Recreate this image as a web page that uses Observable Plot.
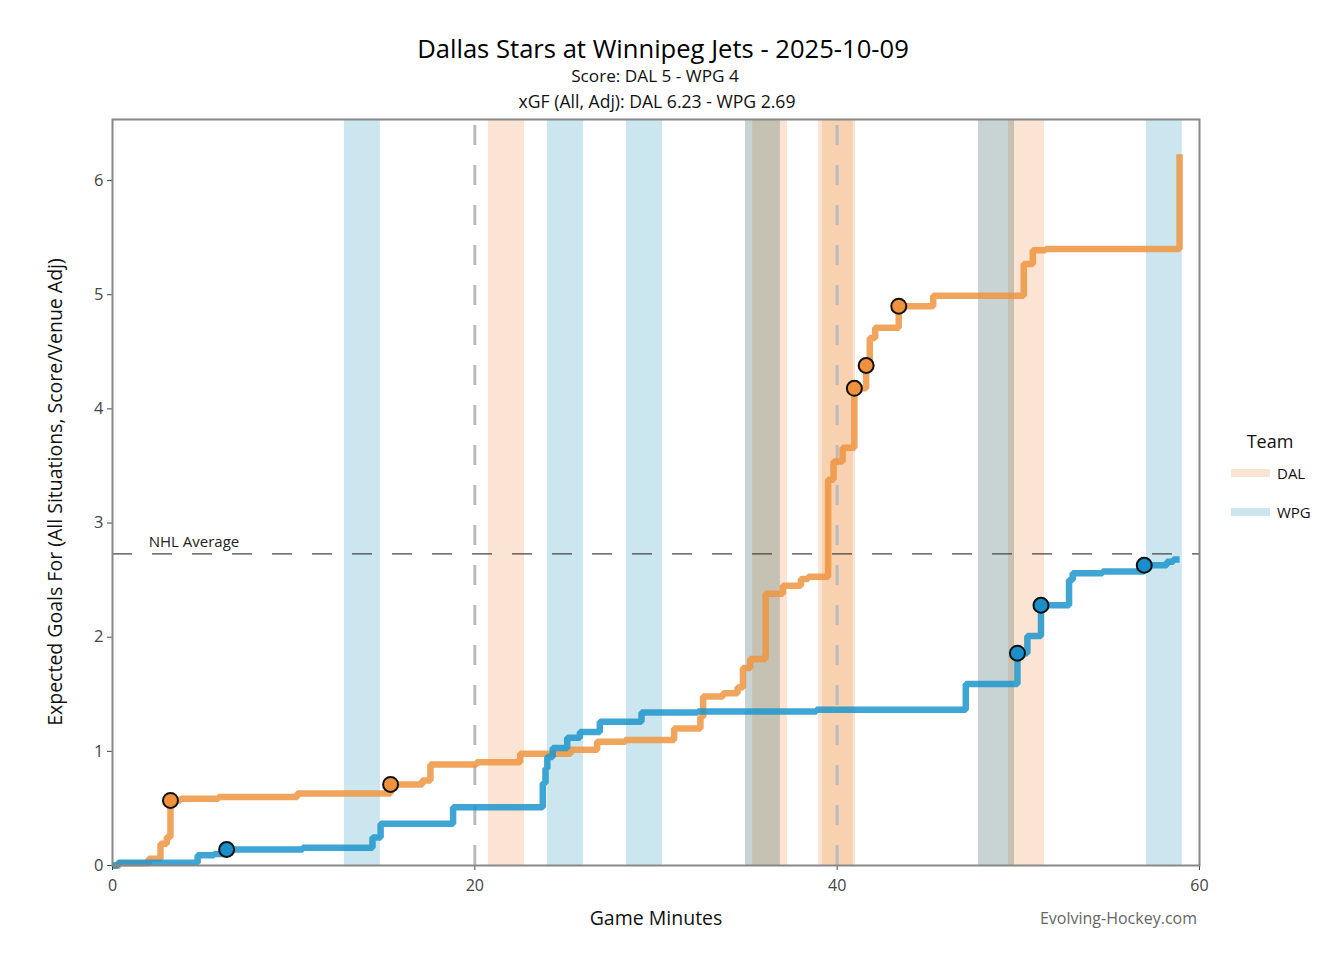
<!DOCTYPE html>
<html><head><meta charset="utf-8">
<script src="https://cdn.jsdelivr.net/npm/d3@7"></script>
<script src="https://cdn.jsdelivr.net/npm/@observablehq/plot@0.6"></script>
<style>
body{margin:0;background:#fff;font-family:"Open Sans",sans-serif;}
#wrap{position:relative;width:1340px;height:958px;overflow:hidden;}
.t{position:absolute;white-space:nowrap;color:#111;line-height:1;}
</style></head><body><div id="wrap"></div>
<script>
// ---- data ----
const dalTime = [0, 0.4, 2.0, 2.65, 3.0, 3.2, 3.75, 5.85, 10.2, 15.35, 17.1, 17.55, 20.1, 22.5, 25.3, 26.75, 28.3, 31.0, 32.45, 32.6, 33.7, 34.5, 34.8, 35.2, 36.05, 37.0, 38.0, 38.4, 39.5, 39.8, 40.3, 40.95, 41.6, 41.8, 42.1, 43.4, 45.3, 50.3, 50.8, 51.5, 58.9];
const dalXg   = [0, 0.02, 0.06, 0.19, 0.25, 0.57, 0.585, 0.60, 0.63, 0.71, 0.745, 0.885, 0.905, 0.98, 1.015, 1.085, 1.10, 1.20, 1.30, 1.48, 1.51, 1.56, 1.73, 1.81, 2.38, 2.45, 2.51, 2.53, 3.38, 3.54, 3.66, 4.18, 4.38, 4.62, 4.71, 4.90, 4.99, 5.27, 5.39, 5.40, 6.23];
const wpgTime = [0, 0.3, 4.7, 5.6, 6.3, 10.5, 14.35, 14.8, 18.8, 23.75, 23.9, 24.0, 24.3, 25.1, 25.8, 26.9, 29.2, 32.3, 38.85, 47.1, 49.95, 50.5, 51.25, 52.8, 53.0, 54.65, 56.95, 58.2, 58.55, 58.9];
const wpgXg   = [0, 0.025, 0.09, 0.10, 0.14, 0.155, 0.245, 0.365, 0.51, 0.72, 0.85, 0.95, 1.03, 1.12, 1.17, 1.26, 1.34, 1.35, 1.365, 1.59, 1.86, 2.01, 2.28, 2.50, 2.56, 2.575, 2.63, 2.66, 2.68, 2.68];
const dalGoalTime = [3.2, 15.35, 40.95, 41.6, 43.4];
const dalGoalXg   = [0.57, 0.71, 4.18, 4.38, 4.90];
const wpgGoalTime = [6.3, 49.95, 51.25, 56.95];
const wpgGoalXg   = [0.14, 1.86, 2.28, 2.63];
// power-play strips
const stripStart = [12.8, 20.75, 24.0, 28.37, 34.94, 35.33, 36.87, 38.97, 39.19, 40.9, 47.8, 49.46, 49.79, 57.07];
const stripEnd   = [14.79, 22.74, 26.0, 30.36, 35.33, 36.87, 37.26, 39.19, 40.9, 41.01, 49.46, 49.79, 51.44, 59.05];
const stripKind  = ["WPG", "DAL", "WPG", "WPG", "Both-WPG", "Both", "DAL", "DAL", "DAL-2", "DAL", "Both-WPG", "Both", "DAL", "WPG"];
const periodMarks = [20, 40];
const nhlAverage = 2.73;
const xTicks = [0, 20, 40, 60];
const yTicks = [0, 1, 2, 3, 4, 5, 6];
const teams = ["DAL", "WPG"];

// ---- build ----
const dal = dalTime.map((t, i) => ({t, xg: dalXg[i]}));
const wpg = wpgTime.map((t, i) => ({t, xg: wpgXg[i]}));
const dalGoals = dalGoalTime.map((t, i) => ({t, xg: dalGoalXg[i]}));
const wpgGoals = wpgGoalTime.map((t, i) => ({t, xg: wpgGoalXg[i]}));
const strips = stripStart.map((s, i) => ({s, e: stripEnd[i], k: stripKind[i]}));

const kindDomain = ["DAL", "WPG", "DAL-2", "Both-WPG", "Both"];
const kindRange  = ["#fbe4d3", "#cce6f0", "#f8d1b0", "#c8d4d4", "#c5c1b3"];

const chart = Plot.plot({
  width: 1340, height: 958,
  marginLeft: 112, marginRight: 141, marginTop: 119, marginBottom: 93,
  style: {fontFamily: "Open Sans", fontSize: "16px", color: "#444", background: "transparent"},
  x: {domain: [0, 60]},
  y: {domain: [0, 6.535]},
  color: {domain: kindDomain, range: kindRange},
  marks: [
    Plot.rect(strips, {x1: "s", x2: "e", fill: "k"}),
    Plot.ruleX(periodMarks, {stroke: "#bbbbbb", strokeWidth: 3, strokeDasharray: "20,20", strokeDashoffset: 34}),
    Plot.ruleY([nhlAverage], {stroke: "#444", strokeWidth: 1.4, strokeDasharray: "20,20"}),
    Plot.text([nhlAverage], {x: () => 2.0, y: d => d, text: () => "NHL Average", dy: -12, textAnchor: "start", fontSize: 15, fill: "#222"}),
    Plot.line(dal, {x: "t", y: "xg", curve: "step-after", stroke: "#ee943f", strokeWidth: 6.5, strokeOpacity: 0.85, strokeLinejoin: "miter", strokeLinecap: "butt"}),
    Plot.line(wpg, {x: "t", y: "xg", curve: "step-after", stroke: "#1c95cd", strokeWidth: 6.5, strokeOpacity: 0.85, strokeLinejoin: "miter", strokeLinecap: "butt"}),
    Plot.dot(dalGoals, {x: "t", y: "xg", r: 7.5, fill: "#f0923d", stroke: "#111", strokeWidth: 2}),
    Plot.dot(wpgGoals, {x: "t", y: "xg", r: 7.5, fill: "#1a8fcc", stroke: "#111", strokeWidth: 2}),
    Plot.axisX({ticks: xTicks, tickFormat: d3.format("d"), tickSize: 5, tickPadding: 9, fontSize: 16, label: null, color: "#444"}),
    Plot.axisY({ticks: yTicks, tickFormat: d3.format("d"), tickSize: 5, tickPadding: 4, fontSize: 16.5, label: null, color: "#444"}),
    Plot.frame({stroke: "#888", strokeWidth: 2})
  ]
});
const wrap = document.getElementById("wrap");
chart.style.position = "absolute";
chart.style.left = "0px";
chart.style.top = "0px";
wrap.appendChild(chart);

function label(text, x, y, size, opts = {}) {
  const d = document.createElement("div");
  d.className = "t";
  d.textContent = text;
  d.style.fontSize = size + "px";
  d.style.left = x + "px";
  d.style.top = y + "px";
  const ax = opts.anchor === "start" ? "0" : opts.anchor === "end" ? "-100%" : "-50%";
  d.style.transform = `translate(${ax},-50%)` + (opts.rotate ? ` rotate(${opts.rotate}deg)` : "");
  if (opts.color) d.style.color = opts.color;
  wrap.appendChild(d);
  return d;
}
label("Dallas Stars at Winnipeg Jets - 2025-10-09", 663, 49, 25.6, {color: "#000"});
label("Score: DAL 5 - WPG 4", 655, 76, 17.2);
label("xGF (All, Adj): DAL 6.23 - WPG 2.69", 657, 102, 17.6);
label("Game Minutes", 656, 918, 19.5);
label("Evolving-Hockey.com", 1197, 918, 16, {anchor: "end", color: "#666"});
label("Expected Goals For (All Situations, Score/Venue Adj)", 55, 492, 19.5, {rotate: -90});
// legend
label("Team", 1270, 441, 18);
teams.forEach((tm, i) => {
  const y = 473 + i * 39;
  const sw = document.createElement("div");
  sw.style.cssText = `position:absolute;left:1231px;top:${y - 4}px;width:39px;height:8px;background:${kindRange[i]}`;
  wrap.appendChild(sw);
  label(tm, 1277, y, 15, {anchor: "start"});
});
</script></body></html>
